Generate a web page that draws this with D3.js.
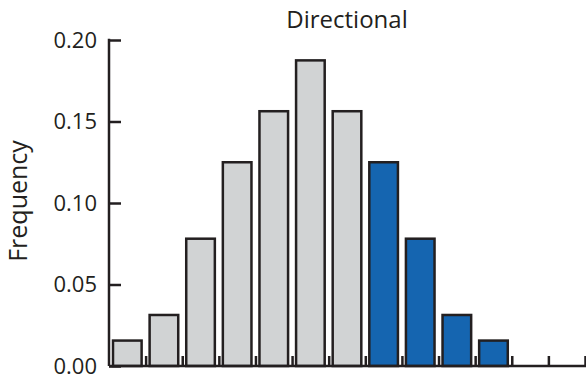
<!DOCTYPE html>
<html>
<head>
<meta charset="utf-8">
<script src="https://cdn.jsdelivr.net/npm/d3@7"></script>
<style>
  html, body { margin: 0; padding: 0; background: #fff; }
  svg { display: block; }
  text { font-family: "Open Sans", sans-serif; fill: #231f20; }
</style>
</head>
<body>
<svg id="chart" width="586" height="378"></svg>
<script>
const title = "Directional";
const yLabel = "Frequency";
const bins = ["1","2","3","4","5","6","7","8","9","10","11","12","13"];
const frequencies = [0.0156, 0.0313, 0.0781, 0.125, 0.1563, 0.1875, 0.1563, 0.125, 0.0781, 0.0313, 0.0156, 0, 0];
const selected = [false, false, false, false, false, false, false, true, true, true, true, false, false];
const yTicks = [0, 0.05, 0.10, 0.15, 0.20];

const svg = d3.select("#chart");
const pLeft = 109, pRight = 585, pTop = 40, pBottom = 366;
const ink = "#231f20";

const x = d3.scaleBand().domain(bins).range([pLeft, pRight]).paddingInner(0).paddingOuter(0);
const y = d3.scaleLinear().domain([0, 0.2]).range([pBottom, pTop]);

const data = bins.map((b, i) => ({ bin: b, value: frequencies[i], sel: selected[i] }));

// bars
svg.append("g").selectAll("rect")
  .data(data.filter(d => d.value > 0))
  .join("rect")
  .attr("x", d => x(d.bin) + 4)
  .attr("y", d => y(d.value))
  .attr("width", x.bandwidth() - 8)
  .attr("height", d => y(0) - y(d.value))
  .attr("fill", d => d.sel ? "#1565b0" : "#d1d3d4")
  .attr("stroke", ink)
  .attr("stroke-width", 2.5);

// y axis (ticks pointing inward)
const yAxis = d3.axisLeft(y).tickValues(yTicks).tickSize(-12).tickPadding(12)
  .tickFormat(d3.format(".2f"));
const gy = svg.append("g").attr("transform", `translate(${pLeft},0)`).call(yAxis);
gy.select(".domain").remove();
gy.selectAll(".tick line").attr("stroke", ink).attr("stroke-width", 2.5);
gy.selectAll(".tick text").attr("font-size", 22).attr("fill", ink)
  .attr("font-family", "'Open Sans', sans-serif").attr("dy", "0.34em");
gy.append("line").attr("x1", 0).attr("x2", 0).attr("y1", pTop - 1.25).attr("y2", pBottom)
  .attr("stroke", ink).attr("stroke-width", 2.5);

// x axis: ticks at bin boundaries, pointing up
const xBoundary = d3.scaleLinear().domain([0, bins.length]).range([pLeft, pRight]);
const boundaries = d3.range(1, bins.length + 1);
const xAxis = d3.axisBottom(xBoundary).tickValues(boundaries).tickSize(-10).tickFormat("");
const gx = svg.append("g").attr("transform", `translate(0,${pBottom})`).call(xAxis);
gx.select(".domain").remove();
gx.selectAll(".tick line").attr("stroke", ink).attr("stroke-width", 2.5);
gx.append("line").attr("x1", pLeft).attr("x2", pRight + 1).attr("y1", 0).attr("y2", 0)
  .attr("stroke", ink).attr("stroke-width", 2.5);

// title
svg.append("text").attr("x", 347).attr("y", 28).attr("text-anchor", "middle")
  .attr("font-size", 24).text(title);

// y label
svg.append("text").attr("transform", "translate(27,201) rotate(-90)")
  .attr("text-anchor", "middle").attr("font-size", 25).text(yLabel);
</script>
</body>
</html>
